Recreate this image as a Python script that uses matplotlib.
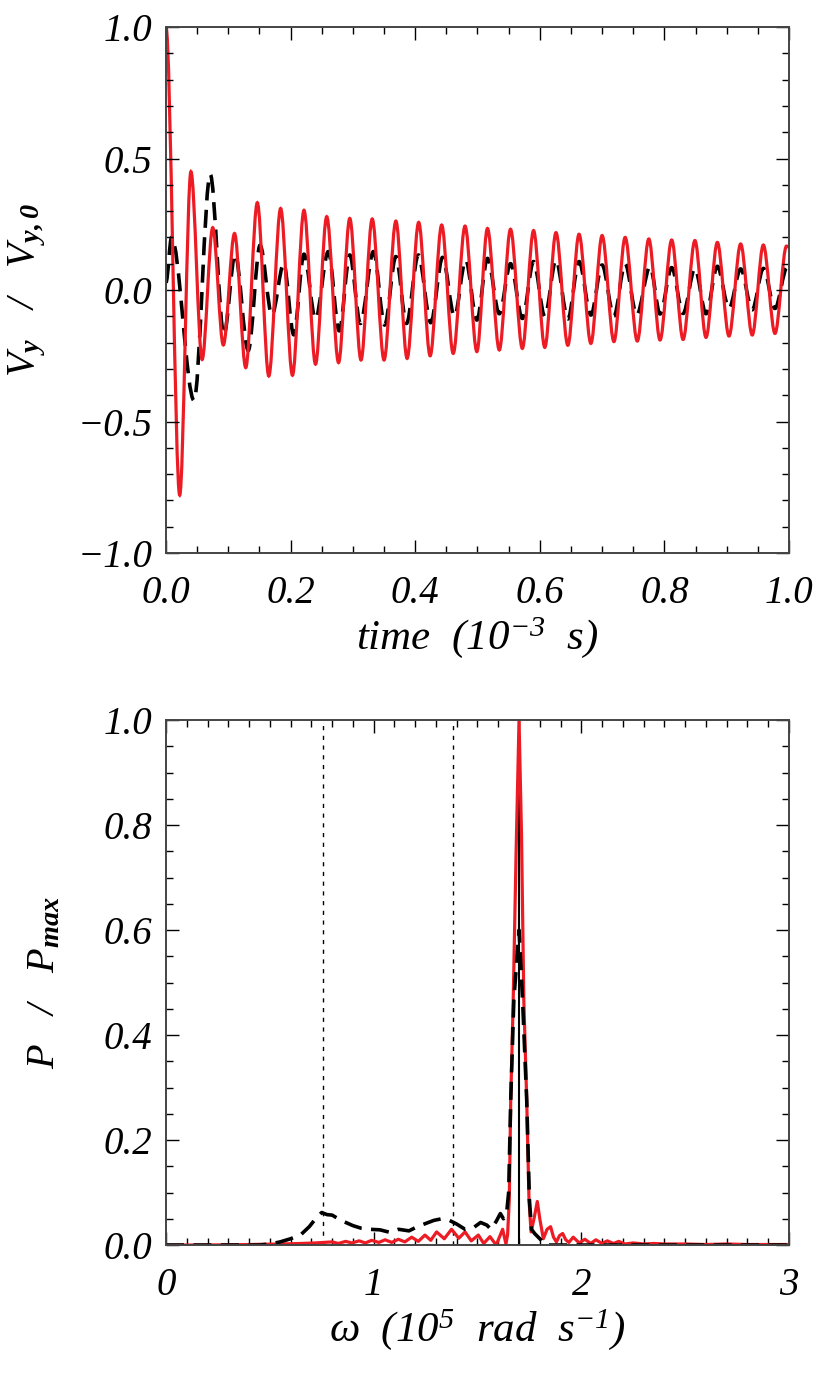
import matplotlib
matplotlib.use("Agg")
import matplotlib.pyplot as plt
from matplotlib.path import Path
from matplotlib.patches import PathPatch
from matplotlib.ticker import MultipleLocator, FuncFormatter

# --- top panel: extrema of the velocity traces ---
red_t = [0.0, 0.022, 0.040, 0.058, 0.075, 0.092, 0.110, 0.128, 0.1466, 0.165,
         0.184, 0.203, 0.2215, 0.240, 0.258, 0.277, 0.295, 0.313, 0.331, 0.350,
         0.369, 0.387, 0.4056, 0.424, 0.4425, 0.461, 0.480, 0.499, 0.516, 0.535,
         0.553, 0.572, 0.590, 0.608, 0.626, 0.645, 0.663, 0.682, 0.700, 0.719,
         0.737, 0.7565, 0.775, 0.793, 0.8117, 0.830, 0.849, 0.8668, 0.885, 0.9037,
         0.9224, 0.941, 0.9588, 0.9775, 0.996, 1.0]
red_v = [1.0, -0.78, 0.45, -0.264, 0.237, -0.209, 0.215, -0.295, 0.332, -0.327,
         0.31, -0.324, 0.303, -0.282, 0.279, -0.276, 0.272, -0.266, 0.27, -0.266,
         0.262, -0.26, 0.257, -0.25, 0.247, -0.241, 0.243, -0.234, 0.234, -0.228,
         0.231, -0.222, 0.226, -0.218, 0.218, -0.21, 0.212, -0.203, 0.207, -0.196,
         0.20, -0.194, 0.194, -0.19, 0.19, -0.188, 0.188, -0.18, 0.181, -0.175,
         0.175, -0.171, 0.171, -0.165, 0.167, 0.163]

blk_t = [0.0, 0.009, 0.045, 0.071, 0.093, 0.111, 0.132, 0.151, 0.170, 0.189,
         0.205, 0.2215, 0.240, 0.2605, 0.278, 0.295, 0.312, 0.333, 0.351, 0.369,
         0.386, 0.405, 0.425, 0.444, 0.463, 0.481, 0.499, 0.516, 0.535, 0.553,
         0.572, 0.590, 0.608, 0.626, 0.645, 0.663, 0.682, 0.700, 0.719, 0.737,
         0.7555, 0.777, 0.793, 0.8117, 0.830, 0.849, 0.8668, 0.885, 0.9037, 0.9224,
         0.941, 0.9588, 0.9775, 0.997, 1.0]
blk_v = [0.03, 0.20, -0.42, 0.44, -0.17, 0.136, -0.23, 0.17, -0.095, 0.10,
         -0.17, 0.136, -0.11, 0.146, -0.155, 0.133, -0.127, 0.146, -0.133, 0.127,
         -0.127, 0.133, -0.124, 0.124, -0.10, 0.114, -0.114, 0.12, -0.09, 0.10,
         -0.108, 0.108, -0.10, 0.114, -0.11, 0.108, -0.095, 0.095, -0.099, 0.10,
         -0.095, 0.089, -0.091, 0.085, -0.089, 0.082, -0.09, 0.09, -0.07, 0.08,
         -0.075, 0.082, -0.07, 0.086, 0.085]

# --- bottom panel: normalised power spectra ---
red_w = [0.00, 0.20, 0.40, 0.55, 0.65, 0.72, 0.76, 0.80, 0.83, 0.865,
         0.895, 0.93, 0.96, 0.99, 1.025, 1.055, 1.087, 1.119, 1.15, 1.183,
         1.215, 1.247, 1.275, 1.303, 1.34, 1.375, 1.41, 1.44, 1.47, 1.504,
         1.53, 1.56, 1.59, 1.621, 1.637, 1.645, 1.653, 1.66, 1.672, 1.686,
         1.70, 1.712, 1.723, 1.737, 1.748, 1.758, 1.772, 1.788, 1.80, 1.817,
         1.835, 1.852, 1.866, 1.88, 1.895, 1.91, 1.925, 1.94, 1.961, 1.99,
         2.017, 2.045, 2.07, 2.10, 2.125, 2.155, 2.18, 2.21, 2.25, 2.30,
         2.35, 2.40, 2.50, 2.60, 2.70, 2.80, 2.90, 3.00]
red_p = [0.0, 0.0, 0.001, 0.002, 0.003, 0.004, 0.005, 0.006, 0.003, 0.007,
         0.004, 0.008, 0.004, 0.009, 0.005, 0.010, 0.005, 0.011, 0.006, 0.015,
         0.007, 0.019, 0.009, 0.025, 0.012, 0.030, 0.013, 0.025, 0.008, 0.019,
         0.003, 0.016, 0.0, 0.030, 0.002, 0.02, 0.086, 0.276, 0.467, 0.75,
         1.0, 0.78, 0.467, 0.276, 0.086, 0.025, 0.05, 0.083, 0.05, 0.012,
         0.03, 0.035, 0.015, 0.006, 0.018, 0.022, 0.01, 0.005, 0.015, 0.004,
         0.011, 0.003, 0.010, 0.003, 0.008, 0.003, 0.007, 0.002, 0.004, 0.002,
         0.003, 0.002, 0.002, 0.001, 0.002, 0.001, 0.001, 0.001]

blk_w = [0.00, 0.45, 0.50, 0.55, 0.60, 0.65, 0.69, 0.72, 0.75, 0.775,
         0.80, 0.83, 0.86, 0.90, 0.94, 0.98, 1.03, 1.08, 1.12, 1.17,
         1.21, 1.25, 1.29, 1.327, 1.36, 1.40, 1.44, 1.48, 1.515, 1.545,
         1.565, 1.59, 1.61, 1.625, 1.64, 1.65, 1.66, 1.675, 1.70, 1.717,
         1.737, 1.75, 1.76, 1.775, 1.80, 1.83, 3.00]
blk_p = [0.0, 0.0, 0.002, 0.006, 0.012, 0.02, 0.035, 0.05, 0.062, 0.058,
         0.057, 0.05, 0.044, 0.037, 0.032, 0.03, 0.029, 0.024, 0.03, 0.027,
         0.035, 0.041, 0.047, 0.05, 0.048, 0.040, 0.030, 0.033, 0.043, 0.038,
         0.030, 0.045, 0.06, 0.05, 0.06, 0.1, 0.276, 0.467, 0.60, 0.467,
         0.276, 0.086, 0.03, 0.022, 0.012, 0.0, 0.0]

# reference frequencies marked by vertical lines
dotted_w = [0.757, 1.383]
solid_w = 1.701

RED = "#ed1c24"

plt.rcParams["font.family"] = ["Liberation Serif", "DejaVu Serif"]
plt.rcParams["font.style"] = "italic"
plt.rcParams["mathtext.fontset"] = "custom"
plt.rcParams["mathtext.rm"] = "Liberation Serif:italic"
plt.rcParams["mathtext.it"] = "Liberation Serif:italic"
plt.rcParams["mathtext.bf"] = "Liberation Serif:bold:italic"


def smooth_path(ts, vs):
    """Cubic Bezier through the extrema with flat tangents at each one."""
    verts = [(ts[0], vs[0])]
    codes = [Path.MOVETO]
    for i in range(len(ts) - 1):
        dt = ts[i + 1] - ts[i]
        verts += [(ts[i] + dt / 3, vs[i]), (ts[i + 1] - dt / 3, vs[i + 1]),
                  (ts[i + 1], vs[i + 1])]
        codes += [Path.CURVE4] * 3
    return Path(verts, codes)


def fmt(spec):
    return FuncFormatter(lambda v, pos: format(v, spec).replace("-", "\u2212"))


def idl_axes(ax):
    for sp in ax.spines.values():
        sp.set_color("#444444")
        sp.set_linewidth(1.4)
    ax.tick_params(which="both", direction="in", top=True, right=True,
                   colors="black", labelsize=28)
    ax.tick_params(which="major", length=9.5, width=1.0)
    ax.tick_params(which="minor", length=5, width=1.0)
    ax.tick_params(axis="x", which="major", pad=16)
    ax.tick_params(axis="y", which="major", pad=10)


fig = plt.figure(figsize=(8.3, 13.84), dpi=100)

# ---------------- top panel ----------------
ax1 = fig.add_axes([0.2, 0.6004, 0.7506, 0.3801])
ax1.add_patch(PathPatch(smooth_path(blk_t, blk_v), fill=False, edgecolor="black",
                        lw=2.6, linestyle=(0, (5, 2.6)), capstyle="butt"))
ax1.add_patch(PathPatch(smooth_path(red_t, red_v), fill=False, edgecolor=RED,
                        lw=2.3))
ax1.set_xlim(0, 1.0)
ax1.set_ylim(-1.0, 1.0)
ax1.xaxis.set_major_locator(MultipleLocator(0.2))
ax1.xaxis.set_minor_locator(MultipleLocator(0.05))
ax1.yaxis.set_major_locator(MultipleLocator(0.5))
ax1.yaxis.set_minor_locator(MultipleLocator(0.1))
ax1.xaxis.set_major_formatter(fmt(".1f"))
ax1.yaxis.set_major_formatter(fmt(".1f"))
idl_axes(ax1)
ax1.set_xlabel("time  (10$^{-3}$  s)", fontsize=31)
ax1.set_ylabel(r"V$_{\mathbf{y}}$   /   V$_{\mathbf{y,0}}$", fontsize=29)
ax1.xaxis.set_label_coords(0.5, -0.118)
ax1.yaxis.set_label_coords(-0.19, 0.5)

# ---------------- bottom panel ----------------
ax2 = fig.add_axes([0.2, 0.1004, 0.7506, 0.3793])
for w in dotted_w:
    ax2.axvline(w, color="black", lw=1.0, linestyle=(0, (3, 4)))
ax2.axvline(solid_w, color="black", lw=1.5)
ax2.plot(red_w, red_p, color=RED, lw=2.3)
ax2.plot(blk_w, blk_p, color="black", lw=2.6, linestyle=(0, (5, 2.6)),
         dash_capstyle="butt")
ax2.set_xlim(0, 3)
ax2.set_ylim(0, 1.0)
ax2.xaxis.set_major_locator(MultipleLocator(1))
ax2.xaxis.set_minor_locator(MultipleLocator(0.1))
ax2.yaxis.set_major_locator(MultipleLocator(0.2))
ax2.yaxis.set_minor_locator(MultipleLocator(0.05))
ax2.xaxis.set_major_formatter(fmt(".0f"))
ax2.yaxis.set_major_formatter(fmt(".1f"))
idl_axes(ax2)
ax2.set_xlabel("ω  (10$^{5}$  rad  s$^{-1}$)", fontsize=31)
ax2.set_ylabel(r"P   /   P$_{\mathbf{max}}$", fontsize=29)
ax2.xaxis.set_label_coords(0.5, -0.118)
ax2.yaxis.set_label_coords(-0.165, 0.5)

fig.savefig("out.png", dpi=100)
